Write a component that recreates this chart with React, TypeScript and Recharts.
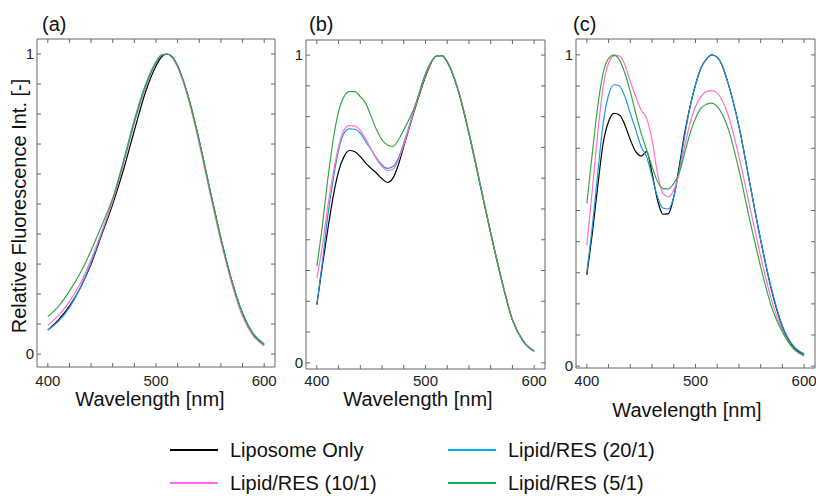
import {LineChart, Line, XAxis, YAxis} from "recharts";

// ---- data ----
const xTicks = [400, 420, 440, 460, 480, 500, 520, 540, 560, 580, 600];
const xTickLabels = [400, 500, 600];
const yTicks = [0, 0.1, 0.2, 0.3, 0.4, 0.5, 0.6, 0.7, 0.8, 0.9, 1];
const yTickLabels = [0, 1];

// (a)
const nmA = [400, 410, 420, 430, 440, 450, 460, 470, 480, 490, 500, 505, 510, 515, 520, 530, 540, 550, 560, 570, 580, 590, 600];
const lipoA = [0.08, 0.115, 0.16, 0.22, 0.3, 0.4, 0.5, 0.615, 0.745, 0.87, 0.96, 0.99, 1.0, 0.99, 0.96, 0.855, 0.71, 0.545, 0.385, 0.245, 0.135, 0.065, 0.032];
const r20A = [0.08, 0.11, 0.155, 0.22, 0.305, 0.405, 0.515, 0.645, 0.78, 0.895, 0.975, 0.997, 1.0, 0.99, 0.96, 0.855, 0.71, 0.545, 0.385, 0.245, 0.138, 0.068, 0.034];
const r10A = [0.095, 0.13, 0.175, 0.235, 0.315, 0.41, 0.51, 0.635, 0.77, 0.885, 0.97, 0.995, 1.0, 0.99, 0.955, 0.85, 0.7, 0.535, 0.375, 0.235, 0.125, 0.06, 0.027];
const r5A = [0.125, 0.16, 0.21, 0.27, 0.345, 0.43, 0.52, 0.64, 0.775, 0.89, 0.97, 0.995, 1.0, 0.99, 0.96, 0.855, 0.71, 0.545, 0.385, 0.245, 0.135, 0.065, 0.032];

// (b)
const nmB = [400, 405, 410, 415, 420, 425, 430, 435, 440, 445, 450, 455, 460, 465, 470, 475, 480, 490, 500, 505, 510, 515, 520, 530, 540, 550, 560, 570, 580, 590, 600];
const lipoB = [0.189, 0.314, 0.432, 0.54, 0.622, 0.67, 0.69, 0.686, 0.67, 0.649, 0.632, 0.616, 0.598, 0.586, 0.6, 0.643, 0.703, 0.822, 0.93, 0.973, 0.997, 0.998, 0.978, 0.886, 0.746, 0.584, 0.422, 0.27, 0.14, 0.07, 0.038];
const r20B = [0.189, 0.324, 0.476, 0.595, 0.692, 0.746, 0.76, 0.759, 0.746, 0.719, 0.692, 0.665, 0.643, 0.632, 0.638, 0.665, 0.714, 0.827, 0.935, 0.975, 0.997, 0.998, 0.978, 0.886, 0.746, 0.584, 0.422, 0.27, 0.14, 0.07, 0.038];
const r10B = [0.276, 0.378, 0.508, 0.616, 0.703, 0.757, 0.771, 0.77, 0.755, 0.727, 0.694, 0.662, 0.638, 0.625, 0.629, 0.659, 0.708, 0.827, 0.935, 0.975, 0.997, 0.998, 0.98, 0.89, 0.75, 0.588, 0.425, 0.272, 0.142, 0.072, 0.039];
const r5B = [0.314, 0.443, 0.595, 0.724, 0.816, 0.865, 0.881, 0.881, 0.865, 0.843, 0.8, 0.757, 0.724, 0.708, 0.703, 0.724, 0.757, 0.832, 0.94, 0.977, 0.997, 0.998, 0.978, 0.886, 0.746, 0.584, 0.422, 0.27, 0.14, 0.07, 0.038];

// (c)
const nmC = [400, 405, 410, 415, 420, 425, 430, 435, 440, 445, 450, 455, 460, 465, 470, 475, 480, 485, 490, 495, 500, 505, 510, 515, 520, 525, 530, 540, 550, 560, 570, 580, 590, 600];
const lipoC = [0.293, 0.426, 0.577, 0.716, 0.786, 0.812, 0.807, 0.775, 0.727, 0.689, 0.675, 0.689, 0.62, 0.534, 0.488, 0.49, 0.544, 0.641, 0.748, 0.834, 0.904, 0.957, 0.986, 1.0, 0.992, 0.962, 0.909, 0.77, 0.587, 0.405, 0.244, 0.126, 0.062, 0.038];
const r20C = [0.303, 0.448, 0.619, 0.78, 0.871, 0.904, 0.9, 0.866, 0.812, 0.759, 0.705, 0.673, 0.609, 0.545, 0.508, 0.505, 0.544, 0.63, 0.738, 0.834, 0.904, 0.957, 0.986, 1.0, 0.992, 0.962, 0.909, 0.77, 0.587, 0.405, 0.248, 0.13, 0.066, 0.04];
const r10C = [0.389, 0.566, 0.748, 0.898, 0.973, 0.997, 0.997, 0.968, 0.914, 0.866, 0.823, 0.796, 0.727, 0.62, 0.555, 0.544, 0.566, 0.62, 0.705, 0.78, 0.834, 0.866, 0.882, 0.885, 0.877, 0.85, 0.807, 0.673, 0.512, 0.352, 0.212, 0.116, 0.057, 0.032];
const r5C = [0.523, 0.684, 0.834, 0.941, 0.989, 1.0, 0.984, 0.941, 0.882, 0.812, 0.748, 0.695, 0.641, 0.593, 0.571, 0.569, 0.587, 0.62, 0.684, 0.748, 0.796, 0.829, 0.841, 0.845, 0.834, 0.807, 0.764, 0.63, 0.469, 0.319, 0.19, 0.11, 0.057, 0.035];

const series = [
    {key: "lipo", name: "Liposome Only", color: "#000000", legend: "#000000"},
    {key: "r20", name: "Lipid/RES (20/1)", color: "#1f94e8", legend: "#00b0f0"},
    {key: "r10", name: "Lipid/RES (10/1)", color: "#ff70c8", legend: "#ff66ff"},
    {key: "r5", name: "Lipid/RES (5/1)", color: "#35a83f", legend: "#00b050"},
];

const makeRows = (nm: number[], lipo: number[], r20: number[], r10: number[], r5: number[]) =>
    nm.map((x, i) => ({nm: x, lipo: lipo[i], r20: r20[i], r10: r10[i], r5: r5[i]}));

const FONT = "'Liberation Sans', Arial, sans-serif";
const AXIS = "#666";

type PanelProps = {
    left: number;
    width: number;
    // plot box edges inside the panel
    box: { top: number; right: number; bottom: number; left: number };
    yDomain: [number, number];
    rows: Record<string, number>[];
    tickMargin: number;
};

// every axis is 1px thick so it still gets drawn; margins are trimmed by that 1px
const Panel = ({left, width, box, yDomain, rows, tickMargin}: PanelProps) => (
    <div style={{position: "absolute", left, top: 0}}>
        <LineChart width={width} height={400} data={rows}
                   margin={{top: box.top - 1, right: width - box.right - 1, bottom: 400 - box.bottom - 1, left: box.left - 1}}>
            <XAxis xAxisId="b" dataKey="nm" type="number" domain={[390, 610]} allowDataOverflow
                   ticks={xTicks} interval={0} height={1} tickSize={-4} tickMargin={tickMargin}
                   stroke={AXIS} tick={{fontSize: 15, fill: "#222"}}
                   tickFormatter={(v: number) => (xTickLabels.includes(v) ? String(v) : "")}/>
            <XAxis xAxisId="t" orientation="top" dataKey="nm" type="number" domain={[390, 610]} allowDataOverflow
                   ticks={xTicks} interval={0} height={1} tickSize={-4} stroke={AXIS}
                   tickFormatter={() => ""}/>
            <YAxis yAxisId="l" type="number" domain={yDomain} allowDataOverflow ticks={yTicks} interval={0}
                   width={1} tickSize={-4} tickMargin={7} stroke={AXIS} tick={{fontSize: 15, fill: "#222"}}
                   tickFormatter={(v: number) => (yTickLabels.includes(v) ? String(v) : "")}/>
            <YAxis yAxisId="r" orientation="right" type="number" domain={yDomain} allowDataOverflow ticks={yTicks}
                   interval={0} width={1} tickSize={-4} stroke={AXIS} tickFormatter={() => ""}/>
            {series.map(s => (
                <Line key={s.key} xAxisId="b" yAxisId="l" type="monotone" dataKey={s.key} stroke={s.color}
                      strokeWidth={1.2} dot={false} isAnimationActive={false}/>
            ))}
        </LineChart>
    </div>
);

const legendCols = [
    {x: 170, items: [series[0], series[2]]},
    {x: 448, items: [series[1], series[3]]},
];
const legendRows = [450, 483];

const App = () => (
    <div style={{position: "absolute", left: 0, top: 0, width: 816, height: 496, background: "#fff", fontFamily: FONT}}>
        <Panel left={0} width={280} box={{top: 39, right: 275, bottom: 367, left: 37}} yDomain={[-0.043, 1.05]}
               rows={makeRows(nmA, lipoA, r20A, r10A, r5A)} tickMargin={12}/>
        <Panel left={270} width={280} box={{top: 40, right: 275, bottom: 369, left: 36}} yDomain={[-0.02, 1.049]}
               rows={makeRows(nmB, lipoB, r20B, r10B, r5B)} tickMargin={10}/>
        <Panel left={540} width={276} box={{top: 39, right: 275, bottom: 368, left: 36}} yDomain={[-0.006, 1.051]}
               rows={makeRows(nmC, lipoC, r20C, r10C, r5C)} tickMargin={11}/>
        <svg width={816} height={496} style={{position: "absolute", left: 0, top: 0, pointerEvents: "none"}}
             fontFamily={FONT} fill="#111">
            <text x={42} y={31} fontSize={20}>(a)</text>
            <text x={309} y={31} fontSize={20}>(b)</text>
            <text x={573} y={31} fontSize={20}>(c)</text>
            <text x={150} y={406} fontSize={20} textAnchor="middle">Wavelength [nm]</text>
            <text x={418} y={406} fontSize={20} textAnchor="middle">Wavelength [nm]</text>
            <text x={687} y={417} fontSize={20} textAnchor="middle">Wavelength [nm]</text>
            <text x={26} y={206} fontSize={20} textAnchor="middle" transform="rotate(-90 26 206)">
                Relative Fluorescence Int. [-]
            </text>
            {legendCols.map(col =>
                col.items.map((s, i) => (
                    <g key={s.key}>
                        <line x1={col.x} x2={col.x + 48} y1={legendRows[i]} y2={legendRows[i]} stroke={s.legend}
                              strokeWidth={2}/>
                        <text x={col.x + 60} y={legendRows[i] + 7} fontSize={20}>{s.name}</text>
                    </g>
                ))
            )}
        </svg>
    </div>
);

export default App;
